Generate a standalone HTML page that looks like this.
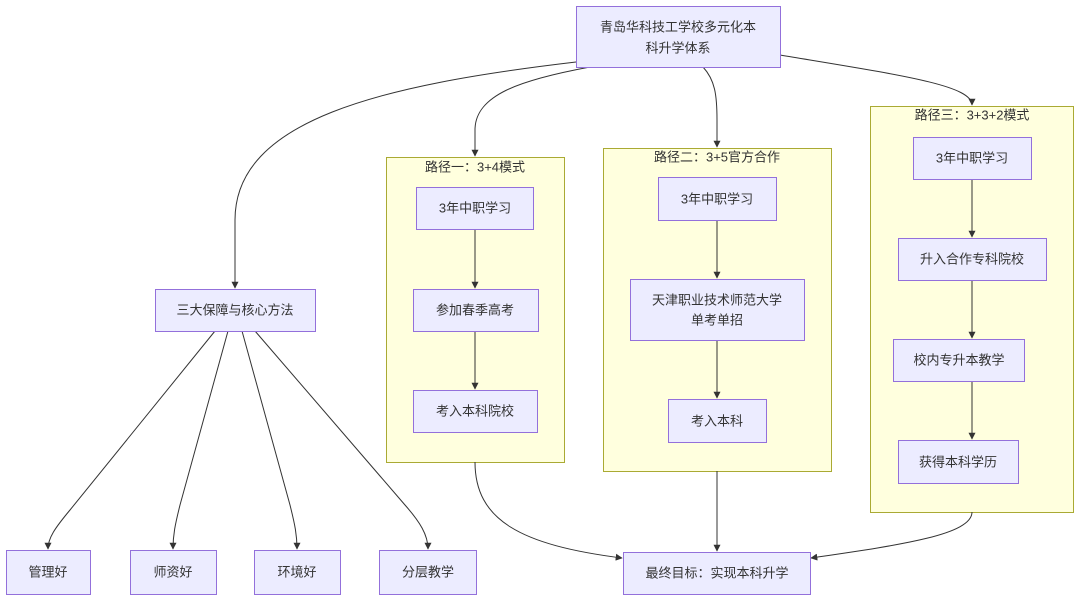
<!DOCTYPE html>
<html><head><meta charset="utf-8"><style>
html,body{margin:0;padding:0;background:#fff;}
svg text{font-family:"Liberation Sans","Noto Sans CJK SC",sans-serif;font-size:13px;fill:#333;text-anchor:middle;dominant-baseline:central;}
.n{fill:#ECECFF;stroke:#9370DB;stroke-width:1;}
.c{fill:#FFFFDE;stroke:#AAAA33;stroke-width:1;}
.e{fill:none;stroke:#333;stroke-width:1;marker-end:url(#a);}
</style></head><body>
<svg width="1080" height="601" viewBox="0 0 1080 601" xmlns="http://www.w3.org/2000/svg">
<defs><marker id="a" viewBox="0 0 10 10" refX="9" refY="5" markerWidth="7" markerHeight="7" orient="auto"><path d="M0,0L10,5L0,10z" fill="#333"/></marker></defs>
<rect class="c" x="386.5" y="157.5" width="178" height="305"/>
<rect class="c" x="603.5" y="148.5" width="228" height="323"/>
<rect class="c" x="870.5" y="106.5" width="203" height="406"/>
<text x="475" y="167">路径一：3+4模式</text>
<text x="717" y="157">路径二：3+5官方合作</text>
<text x="972" y="115">路径三：3+3+2模式</text>

<path class="e" d="M576,62 C380,85 235,120 235,220 L235,288"/>
<path class="e" d="M590,67 C520,80 475,95 475,130 L475,156"/>
<path class="e" d="M703,67 C715,80 717,95 717,120 L717,147"/>
<path class="e" d="M780,55 C900,75 972,85 972,105"/>
<path class="e" d="M475,229 L475,288"/>
<path class="e" d="M475,331 L475,389"/>
<path class="e" d="M717,220 L717,278"/>
<path class="e" d="M717,340 L717,398"/>
<path class="e" d="M972,179 L972,237"/>
<path class="e" d="M972,280 L972,338"/>
<path class="e" d="M972,381 L972,439"/>
<path class="e" d="M475,462 C475,520 520,545 622,558"/>
<path class="e" d="M717,471 L717,551"/>
<path class="e" d="M972,512 C972,535 900,545 811,558"/>
<path class="e" d="M215,331 L70,510 C55,528 48,538 48,549"/>
<path class="e" d="M228,331 L180,505 C175,525 173,535 173,549"/>
<path class="e" d="M242,331 L290,505 C295,525 297,535 297,549"/>
<path class="e" d="M255,331 L405,505 C420,522 428,535 428,549"/>

<rect class="n" x="576.5" y="6.5" width="204" height="61"/>
<text x="678" y="27">青岛华科技工学校多元化本</text>
<text x="678" y="48">科升学体系</text>
<rect class="n" x="155.5" y="289.5" width="160" height="42"/><text x="235" y="310">三大保障与核心方法</text>
<rect class="n" x="6.5" y="550.5" width="84" height="44"/><text x="48" y="572">管理好</text>
<rect class="n" x="130.5" y="550.5" width="86" height="44"/><text x="173" y="572">师资好</text>
<rect class="n" x="254.5" y="550.5" width="86" height="44"/><text x="297" y="572">环境好</text>
<rect class="n" x="379.5" y="550.5" width="97" height="44"/><text x="428" y="572">分层教学</text>
<rect class="n" x="623.5" y="552.5" width="187" height="42"/><text x="717" y="573">最终目标：实现本科升学</text>
<rect class="n" x="416.5" y="187.5" width="117" height="42"/><text x="475" y="208">3年中职学习</text>
<rect class="n" x="413.5" y="289.5" width="125" height="42"/><text x="475" y="310">参加春季高考</text>
<rect class="n" x="413.5" y="390.5" width="124" height="42"/><text x="475" y="411">考入本科院校</text>
<rect class="n" x="658.5" y="177.5" width="118" height="43"/><text x="717" y="199">3年中职学习</text>
<rect class="n" x="630.5" y="279.5" width="174" height="61"/><text x="717" y="300">天津职业技术师范大学</text><text x="717" y="320">单考单招</text>
<rect class="n" x="668.5" y="399.5" width="98" height="43"/><text x="717" y="421">考入本科</text>
<rect class="n" x="913.5" y="137.5" width="118" height="42"/><text x="972" y="158">3年中职学习</text>
<rect class="n" x="898.5" y="238.5" width="148" height="42"/><text x="972" y="259">升入合作专科院校</text>
<rect class="n" x="893.5" y="339.5" width="131" height="42"/><text x="959" y="360">校内专升本教学</text>
<rect class="n" x="898.5" y="440.5" width="120" height="43"/><text x="958" y="462">获得本科学历</text>
</svg>
</body></html>
